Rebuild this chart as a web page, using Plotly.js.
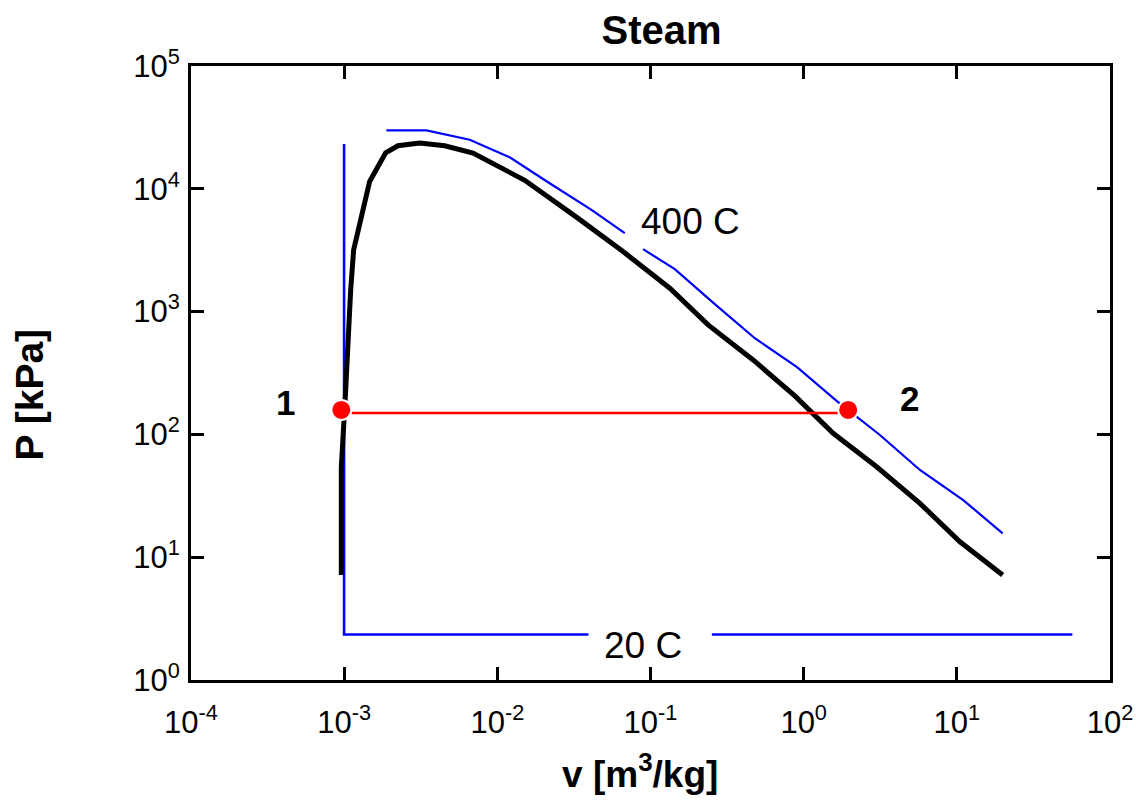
<!DOCTYPE html>
<html>
<head>
<meta charset="utf-8">
<script src="https://cdn.plot.ly/plotly-3.0.1.min.js"></script>
<style>html,body{margin:0;padding:0;background:#fff}</style>
</head>
<body>
<div id="chart" style="width:1136px;height:801px"></div>
<script>
// Saturation dome (v in m3/kg, P in kPa)
const domeV = [0.000958, 0.000958, 0.001015, 0.001046, 0.001059, 0.001103, 0.001153, 0.001295, 0.001467, 0.001866, 0.002246, 0.003112, 0.004534, 0.00694, 0.0151, 0.03286, 0.0662, 0.1337, 0.2378, 0.4679, 0.876, 1.558, 2.994, 5.741, 10.48, 19.91];
const domeP = [7.15, 54.2, 190.7, 404, 750, 1503, 3184, 5802, 11470, 19650, 22410, 23570, 22410, 19540, 11730, 5879, 3083, 1551, 779, 404, 205.6, 102.1, 54.55, 27.45, 13.35, 7.15];

// 400 C isotherm (null = gap left for its label)
const iso400V = [0.001886, 0.003443, 0.006604, 0.01212, 0.02144, 0.04118, 0.06794, null, 0.08947, 0.1441, 0.2618, 0.4799, 0.9095, 1.640, 3.146, 5.741, 11.01, 19.91];
const iso400P = [29870, 29870, 25070, 17960, 11300, 6744, 4355, null, 3226, 2216, 1156, 607, 351, 187.2, 98.9, 51.3, 29.2, 15.63];

// 20 C isotherm (null = gap left for its label)
const iso20V = [0.0009985, 0.0009985, 0.03936, null, 0.2515, 56.8];
const iso20P = [23130, 2.349, 2.349, null, 2.349, 2.349];

// Process 1-2 and state points
const processV = [0.000958, 1.953];
const processP = [149.4, 149.4];
const stateV = [0.000958, 1.953];
const stateP = [158.1, 158.1];
const stateNames = ['1', '2'];

// Axis ticks
const xTickVals = [1e-4, 1e-3, 1e-2, 1e-1, 1, 10, 100];
const xTickText = ['10<sup>-4</sup>', '10<sup>-3</sup>', '10<sup>-2</sup>', '10<sup>-1</sup>', '10<sup>0</sup>', '10<sup>1</sup>', '10<sup>2</sup>'];
const yTickVals = [1, 10, 100, 1e3, 1e4, 1e5];
const yTickText = ['10<sup>0</sup>', '10<sup>1</sup>', '10<sup>2</sup>', '10<sup>3</sup>', '10<sup>4</sup>', '10<sup>5</sup>'];

const L = Math.log10;

const traces = [
  {x: iso20V, y: iso20P, type: 'scatter', mode: 'lines', line: {color: '#0000ff', width: 2.6}, connectgaps: false, hoverinfo: 'skip'},
  {x: iso400V, y: iso400P, type: 'scatter', mode: 'lines', line: {color: '#0000ff', width: 2.2}, connectgaps: false, hoverinfo: 'skip'},
  {x: domeV, y: domeP, type: 'scatter', mode: 'lines', line: {color: '#000000', width: 5}, hoverinfo: 'skip'},
  {x: processV, y: processP, type: 'scatter', mode: 'lines', line: {color: '#ff0000', width: 2.6}, hoverinfo: 'skip'},
  {x: stateV, y: stateP, type: 'scatter', mode: 'markers', marker: {color: '#ff0000', size: 20, line: {color: '#ffffff', width: 2}}, hoverinfo: 'skip'}
];

const font = 'Liberation Sans, Arial, Helvetica, sans-serif';

const annotations = [
  {x: L(stateV[0]) - 0.366, y: L(stateP[0]) + 0.06, xref: 'x', yref: 'y', text: '<b>' + stateNames[0] + '</b>', showarrow: false, font: {size: 35, color: '#000'}, xanchor: 'center', yanchor: 'middle'},
  {x: L(stateV[1]) + 0.397, y: L(stateP[1]) + 0.09, xref: 'x', yref: 'y', text: '<b>' + stateNames[1] + '</b>', showarrow: false, font: {size: 35, color: '#000'}, xanchor: 'center', yanchor: 'middle'},
  {x: -0.7367, y: 3.7351, xref: 'x', yref: 'y', text: '400 C', showarrow: false, font: {size: 37, color: '#000'}, xanchor: 'center', yanchor: 'middle'},
  {x: -1.0516, y: 0.2796, xref: 'x', yref: 'y', text: '20 C', showarrow: false, font: {size: 37, color: '#000'}, xanchor: 'center', yanchor: 'middle'}
];

const axisCommon = {
  type: 'log', showline: true, linewidth: 3, linecolor: '#000', mirror: 'ticks',
  ticks: 'inside', ticklen: 13, tickwidth: 3, tickcolor: '#000',
  showgrid: false, zeroline: false, tickfont: {size: 31, color: '#000', family: font}
};

const layout = {
  width: 1136, height: 801,
  margin: {l: 191, r: 26, t: 66, b: 121, pad: 0},
  paper_bgcolor: '#ffffff', plot_bgcolor: '#ffffff',
  showlegend: false,
  font: {family: font, color: '#000'},
  title: {text: '<b>Steam</b>', font: {size: 40, color: '#000', family: font}, xref: 'paper', x: 0.512, xanchor: 'center', yref: 'container', y: 0.963, yanchor: 'middle'},
  xaxis: Object.assign({}, axisCommon, {
    range: [-4, 2], tickmode: 'array', tickvals: xTickVals, ticktext: xTickText,
    ticklabelstandoff: 13,
    title: {text: '<b>v [m<sup>3</sup>/kg]</b>&nbsp;&nbsp;', font: {size: 37, color: '#000', family: font}, standoff: 22}
  }),
  yaxis: Object.assign({}, axisCommon, {
    range: [0, 5], tickmode: 'array', tickvals: yTickVals, ticktext: yTickText,
    ticklabelstandoff: 2,
    title: {text: '<b>P [kPa]</b>&nbsp;&nbsp;&nbsp;&nbsp;', font: {size: 39, color: '#000', family: font}, standoff: 78}
  }),
  annotations: annotations
};

Plotly.newPlot('chart', traces, layout, {displayModeBar: false, staticPlot: true});
</script>
</body>
</html>
